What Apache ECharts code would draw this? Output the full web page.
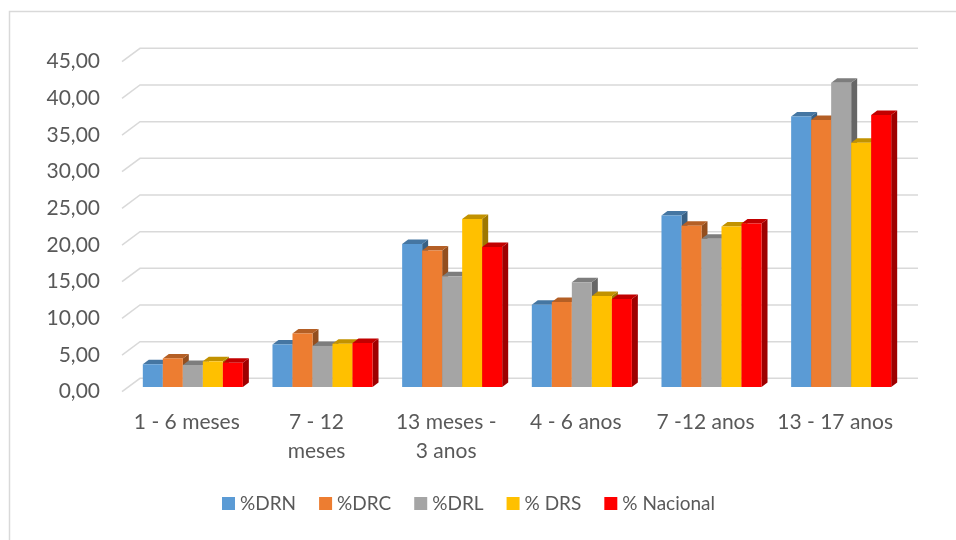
<!DOCTYPE html>
<html>
<head>
<meta charset="utf-8">
<script src="https://cdn.jsdelivr.net/npm/echarts@6/dist/echarts.min.js"></script>
<style>
  html, body { margin: 0; padding: 0; background: #ffffff; }
  #chart { width: 956px; height: 540px; }
</style>
</head>
<body>
<div id="chart"></div>
<script>
// Age groups on the category axis
const categories = ['1 - 6 meses', '7 - 12\nmeses', '13 meses -\n3 anos', '4 - 6 anos', '7 -12 anos', '13 - 17 anos'];

// Percentages per region
const seriesNames = ['%DRN', '%DRC', '%DRL', '% DRS', '% Nacional'];
const drn      = [3.1, 5.8, 19.5, 11.2, 23.4, 36.9];
const drc      = [3.9, 7.3, 18.6, 11.6, 22.0, 36.4];
const drl      = [3.0, 5.6, 15.1, 14.3, 20.2, 41.5];
const drs      = [3.5, 5.9, 22.9, 12.4, 21.9, 33.3];
const nacional = [3.3, 6.0, 19.1, 12.0, 22.3, 37.1];

// Value-axis ticks
const yTicks = [0, 5, 10, 15, 20, 25, 30, 35, 40, 45];

const colors = ['#5b9bd5', '#ed7d31', '#a5a5a5', '#ffc000', '#ff0000'];
const allValues = [drn, drc, drl, drs, nacional];

const FONT = 'Lato';
const TEXT = '#595959';

// Pseudo-3D projection: back wall offset and bar depth (pixels)
const WALL_DX = 18, WALL_DY = -13.4;
const BAR_OX = 6, BAR_OY = -4.7;
const DEPTH_DX = 6, DEPTH_DY = -4.5;
const BAR_FRAC = 0.1543;

function shade(hex, f) {
  const n = parseInt(hex.slice(1), 16);
  const r = Math.round(((n >> 16) & 255) * f);
  const g = Math.round(((n >> 8) & 255) * f);
  const b = Math.round((n & 255) * f);
  return 'rgb(' + r + ',' + g + ',' + b + ')';
}

function wallSeries() {
  return {
    type: 'custom',
    name: 'wall',
    silent: true,
    clip: false,
    z: 1,
    data: yTicks.map(v => [0, v]),
    renderItem: function (params, api) {
      const y = api.coord([0, api.value(1)])[1];
      const left = params.coordSys.x;
      const right = left + params.coordSys.width;
      return {
        type: 'polyline',
        shape: { points: [[left, y], [left + WALL_DX, y + WALL_DY], [right + WALL_DX, y + WALL_DY]] },
        style: { stroke: '#d9d9d9', lineWidth: 1.5, fill: null }
      };
    }
  };
}

function barSeries(name, values, color, idx) {
  const top = shade(color, 0.76);
  const side = shade(color, 0.62);
  return {
    type: 'custom',
    name: name,
    clip: false,
    z: 2,
    itemStyle: { color: color },
    data: values.map((v, c) => [c, v]),
    renderItem: function (params, api) {
      const c = api.value(0), v = api.value(1);
      const pTop = api.coord([c, v]);
      const pBase = api.coord([c, 0]);
      const catW = api.size([1, 0])[0];
      const bw = catW * BAR_FRAC;
      const x0 = pTop[0] - 2.5 * bw + idx * bw + BAR_OX;
      const x1 = x0 + bw;
      const yt = pTop[1] + BAR_OY;
      const yb = pBase[1] + BAR_OY;
      return {
        type: 'group',
        children: [
          {
            type: 'polygon',
            shape: { points: [[x1, yt], [x1 + DEPTH_DX, yt + DEPTH_DY], [x1 + DEPTH_DX, yb + DEPTH_DY], [x1, yb]] },
            style: { fill: side }
          },
          {
            type: 'polygon',
            shape: { points: [[x0, yt], [x1, yt], [x1 + DEPTH_DX, yt + DEPTH_DY], [x0 + DEPTH_DX, yt + DEPTH_DY]] },
            style: { fill: top }
          },
          {
            type: 'rect',
            shape: { x: x0, y: yt, width: bw, height: yb - yt },
            style: { fill: color }
          }
        ]
      };
    }
  };
}

const chart = echarts.init(document.getElementById('chart'));
chart.setOption({
  animation: false,
  backgroundColor: '#ffffff',
  textStyle: { fontFamily: FONT },
  graphic: [{
    type: 'rect',
    silent: true,
    shape: { x: 9.5, y: 11.5, width: 1000, height: 600 },
    style: { fill: null, stroke: '#d9d9d9', lineWidth: 1.5 }
  }],
  grid: { left: 122, right: 56, top: 61.7, bottom: 148.3 },
  xAxis: {
    type: 'category',
    data: categories,
    axisLine: { show: false },
    axisTick: { show: false },
    splitLine: { show: false },
    axisLabel: { color: TEXT, fontFamily: FONT, fontSize: 21, lineHeight: 29, margin: 16, interval: 0 }
  },
  yAxis: {
    type: 'value',
    min: 0, max: 45, interval: 5,
    axisLine: { show: false },
    axisTick: { show: false },
    splitLine: { show: false },
    axisLabel: {
      color: TEXT, fontFamily: FONT, fontSize: 21, margin: 22,
      formatter: v => v.toFixed(2).replace('.', ',')
    }
  },
  legend: {
    data: seriesNames,
    left: 217,
    top: 489,
    icon: 'rect',
    itemWidth: 13,
    itemHeight: 13,
    itemGap: 23,
    textStyle: { color: TEXT, fontFamily: FONT, fontSize: 19 }
  },
  series: [wallSeries()].concat(seriesNames.map((n, i) => barSeries(n, allValues[i], colors[i], i)))
});
</script>
</body>
</html>
